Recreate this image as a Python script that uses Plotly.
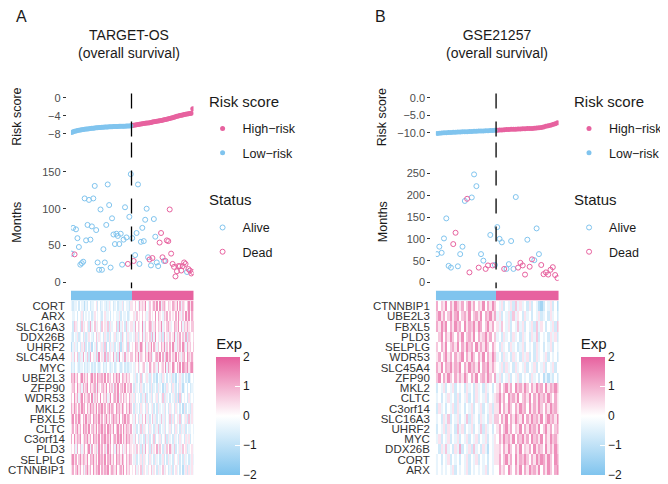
import plotly.graph_objects as go

# the page body keeps its default 8px margin, so the figure is 8px smaller
# and all positions below are given in window pixels
W, H = 660, 476
OFF = 8
PINK = "#E7629F"
BLUE = "#80C4EE"
TXT = "#1a1a1a"
TICK = "#4D4D4D"

# ---------------- data: TARGET-OS (panel A) ----------------
risk_low_a = [-7.65, -7.5, -7.4, -7.32, -7.25, -7.18, -7.12, -7.07, -7.02, -6.97,
              -6.92, -6.88, -6.84, -6.8, -6.76, -6.72, -6.68, -6.64, -6.61, -6.58,
              -6.55, -6.52, -6.5, -6.48, -6.46, -6.44, -6.42, -6.4, -6.38, -6.36,
              -6.34, -6.33, -6.32, -6.31, -6.3, -6.29, -6.28, -6.27, -6.26, -6.24,
              -6.22, -6.18]
risk_high_a = [-6.12, -6.06, -6.0, -5.95, -5.9, -5.85, -5.8, -5.75, -5.7, -5.65,
               -5.6, -5.55, -5.5, -5.44, -5.38, -5.32, -5.26, -5.2, -5.14, -5.08,
               -5.02, -4.95, -4.88, -4.8, -4.72, -4.64, -4.56, -4.48, -4.4, -4.3,
               -4.2, -4.1, -4.0, -3.92, -3.85, -3.78, -3.72, -3.66, -3.6, -3.55,
               -3.5, -3.42, -2.4]
months_a = [39, 74, 38, 72, 60, 48, 24, 26, 28, 114,
            57, 78, 112, 58, 76, 114, 131, 71, 27, 17,
            99, 17, 45, 27, 78, 133, 105, 20, 87, 65,
            52, 66, 63, 52, 66, 24, 58, 102, 61, 25,
            89, 147, 60, 29, 37, 67, 133, 25, 55, 74,
            56, 85, 100, 34, 31, 23, 33, 86, 62, 27,
            22, 54, 67, 34, 29, 29, 57, 56, 99, 39,
            25, 21, 8, 15, 22, 22, 16, 22, 27, 25,
            14, 18, 16, 12, 14]
status_a = "AADAAAAAAA AAAAAAAAAA AAAAAAAAAA AAAAAAAAAD AAADAAAAAA AAAADADAAA ADDDADDDDD DDDDDDDDDD ADDDD"
genes_a = ["CORT", "ARX", "SLC16A3", "DDX26B", "UHRF2", "SLC45A4", "MYC", "UBE2L3", "ZFP90",
           "WDR53", "MKL2", "FBXL5", "CLTC", "C3orf14", "PLD3", "SELPLG", "CTNNBIP1"]
# expression levels 1..9 (5 = 0), low-risk | high-risk samples
expr_a = [
    "4344535442 4353445635 3454346453 4534463544 36|6575486769 5475686959 4786576587 6958476579 698",
    "5445354635 4545346545 4356445354 5446354453 45|5647565756 4675659586 5476857565 8596475969 587",
    "5376453746 5638457465 3756473645 5738465374 56|6485765947 5687468576 9465786458 7695847686 579",
    "4354634536 3465435746 4536436354 6345374536 44|5476365847 6573849564 7385647569 4768574837 658",
    "2464353647 3536254735 4637253646 3547264537 35|6587469758 4769586475 8694758596 4768597486 759",
    "6475736485 4738564739 5648374658 4739564846 57|7586947658 6978457869 5847968576 9586478597 686",
    "3435434453 4345343543 4534354345 3454345343 44|5465745675 4586576485 6759486597 5869598796 897",
    "8796857968 6857968597 7869586758 6979587686 75|5463547354 6436534254 3645354634 2546435342 453",
    "6785967486 7958678496 5786958674 8695786957 68|5364536435 4536345364 5243645364 3536424535 344",
    "7596847958 6785947685 9576846957 8694758675 86|4635453647 3546354635 4736453546 3627354536 453",
    "8697586978 5869786958 7968579687 5978697586 97|5364536453 6354635364 5463536453 6453526354 364",
    "7958697586 9678597869 6857968579 7869587968 75|6475364758 4635746354 7463547363 5647354637 464",
    "6857968597 8695786958 7968597869 5796859687 68|5463547364 5364536473 5463546353 6453646354 453",
    "8596879568 7968597869 5879686957 8697958697 86|6475364537 4635473546 3547364536 4536453646 354",
    "6574857468 5794856749 6857496857 4968574685 76|5647563748 5637465847 5364758647 3546475634 564",
    "7968579687 6958796859 7869587968 5978697586 87|5463546364 5364536453 4635364536 5463536453 463",
    "6857968574 7968596879 5868795687 6957869586 75|6574657365 4657465364 5746534635 6453524636 464",
]

# ---------------- data: GSE21257 (panel B) ----------------
risk_low_b = [-10.12, -10.05, -10.0, -9.95, -9.91, -9.87, -9.83, -9.8, -9.77, -9.74,
              -9.71, -9.68, -9.65, -9.62, -9.59, -9.56, -9.53, -9.5, -9.47, -9.44,
              -9.41, -9.38, -9.35, -9.32, -9.29, -9.25]
risk_high_b = [-9.2, -9.16, -9.12, -9.08, -9.04, -9.0, -8.97, -8.94, -8.91, -8.88,
               -8.85, -8.82, -8.79, -8.76, -8.73, -8.7, -8.65, -8.6, -8.52, -8.42,
               -8.3, -8.1, -7.95, -7.8, -7.6, -7.4, -7.1]
months_b = [65, 82, 68, 101, 147, 38, 34, 88, 114, 37,
            65, 82, 187, 192, 23, 195, 248, 221, 34, 65,
            50, 31, 39, 109, 39, 40, 127, 100, 92, 31,
            31, 42, 95, 31, 196, 34, 45, 39, 18, 98,
            36, 53, 51, 124, 65, 40, 19, 23, 18, 29,
            35, 17, 10]
status_b = "AAAAAAADDA AAADDAAADA ADDADAAAAD AAAAADDDDA DDAAADDDDD DDD"
genes_b = ["CTNNBIP1", "UBE2L3", "FBXL5", "PLD3", "SELPLG", "WDR53", "SLC45A4", "ZFP90", "MKL2",
           "CLTC", "C3orf14", "SLC16A3", "UHRF2", "MYC", "DDX26B", "CORT", "ARX"]
expr_b = [
    "8576958697 6857968576 958697|5463546374 6453635421 3546352",
    "7968579689 5786957869 587968|4635463746 5364535463 4536453",
    "8697958697 8596879698 579685|6475463547 4635463746 5354637",
    "5795869758 6957869586 796857|4536453645 3645364735 4536463",
    "7586957869 5869785968 697586|5364536453 4635453645 3546354",
    "6857968586 7958697586 958697|4536453645 3646353645 4635453",
    "8695879687 9586978695 879686|5463645364 5463546354 6354635",
    "7958697586 8697586957 869758|4635463546 3545364535 2424353",
    "3546354635 4536453645 364535|6857968597 8697586978 5968797",
    "4535464536 3546353645 463546|7968597869 5786958697 8697586",
    "3645354636 4535463546 354636|6958697586 9785968697 5869786",
    "4536473546 3547364536 453647|7586958697 6958697869 5797869",
    "3546364537 4635463547 364535|6857968576 9586978695 7968578",
    "4635463546 3546354635 463546|5869786958 7968597869 5869786",
    "5364745364 8354637453 642546|6758697586 9576859687 5968697",
    "4535463545 3546354635 453546|6857968596 8797586979 8697598",
    "4545454635 4546354545 463545|5867597586 9586978695 8697589",
]


def px_x(p):
    return (p - OFF) / W


def px_y(p):
    return 1 - (p - OFF) / H


def levels(rows):
    return [[(int(c) - 5) / 2.8 for c in r.replace(" ", "").replace("|", "")] for r in rows]


exp_scale = [[0, BLUE], [0.5, "#FFFFFF"], [1, PINK]]
group_scale = [[0, BLUE], [0.5, BLUE], [0.5, PINK], [1, PINK]]

fig = go.Figure()


def add_panel(tag, low, high, months, status, genes, expr, ax, leg, cb_x):
    xr, yr, ym, xh, yb, yhm = ax
    n_low, n = len(low), len(low) + len(high)
    xs_low = list(range(1, n_low + 1))
    xs_high = list(range(n_low + 1, n + 1))
    fig.add_trace(go.Scatter(x=xs_high, y=high, mode="markers", name="High−risk",
                             marker=dict(color=PINK, size=5), xaxis=xr, yaxis=yr,
                             legend=leg[0], legendgroup=tag + "h", legendrank=1))
    fig.add_trace(go.Scatter(x=xs_low, y=low, mode="markers", name="Low−risk",
                             marker=dict(color=BLUE, size=5), xaxis=xr, yaxis=yr,
                             legend=leg[0], legendgroup=tag + "l", legendrank=2))
    st = status.replace(" ", "")
    for code, name, col, rank in [("A", "Alive", BLUE, 1), ("D", "Dead", PINK, 2)]:
        idx = [i for i, s in enumerate(st) if s == code]
        fig.add_trace(go.Scatter(x=[i + 1 for i in idx], y=[months[i] for i in idx],
                                 mode="markers", name=name,
                                 marker=dict(symbol="circle-open", color=col, size=5,
                                             line=dict(width=1, color=col)),
                                 xaxis=xr, yaxis=ym, legend=leg[1],
                                 legendgroup=tag + code, legendrank=rank))
    groups = [[0] * n_low + [1] * len(high)]
    fig.add_trace(go.Heatmap(z=groups, x=list(range(n)), y=["group"], colorscale=group_scale,
                             zmin=0, zmax=1, showscale=False, xaxis=xh, yaxis=yb,
                             hoverinfo="skip"))
    fig.add_trace(go.Heatmap(z=levels(expr), x=list(range(n)), y=genes, colorscale=exp_scale,
                             zmin=-2, zmax=2, xaxis=xh, yaxis=yhm,
                             colorbar=dict(x=px_x(cb_x), xanchor="left", y=px_y(336),
                                           yanchor="top", len=140, lenmode="pixels",
                                           thickness=24, thicknessmode="pixels",
                                           xpad=0, ypad=0, outlinewidth=0,
                                           title=dict(text="Exp", side="top",
                                                      font=dict(size=15, color=TXT)),
                                           tickvals=[-2, -1, 0, 1, 2], ticks="inside",
                                           ticklen=5, tickcolor="white",
                                           tickfont=dict(size=12, color=TXT))))
    for yref in (yr, ym):
        fig.add_shape(type="line", xref=xr, yref=yref + " domain",
                      x0=n_low + 0.5, x1=n_low + 0.5, y0=1, y1=0,
                      line=dict(color="black", width=1.3, dash="15px,13px"))
    return n


n_a = add_panel("a", risk_low_a, risk_high_a, months_a, status_a, genes_a, expr_a,
                ("x", "y", "y2", "x3", "y3", "y4"), ("legend", "legend2"), 216)
n_b = add_panel("b", risk_low_b, risk_high_b, months_b, status_b, genes_b, expr_b,
                ("x4", "y5", "y6", "x5", "y7", "y8"), ("legend3", "legend4"), 589)

tickstyle = dict(ticks="outside", ticklen=3, tickwidth=1, tickcolor="#333333",
                 tickfont=dict(size=11, color=TICK, family="Liberation Sans"),
                 showgrid=False, zeroline=False, showline=False)
hidden = dict(visible=False, showgrid=False, zeroline=False)

dom_a = [px_x(67.3), px_x(192.7)]
dom_b = [px_x(440.7), px_x(566.3)]
dom_risk = [px_y(136), px_y(92.5)]
dom_months = [px_y(289.3), px_y(142)]
dom_bar = [px_y(301.5), px_y(291.5)]
dom_heat = [px_y(478), px_y(302)]


def gene_axis(genes, anchor):
    return dict(domain=dom_heat, anchor=anchor, autorange="reversed", ticks="",
                tickmode="array", tickvals=genes, ticktext=genes,
                showgrid=False, zeroline=False, ticklabelstandoff=5,
                tickfont=dict(size=11.5, color="#333333"))


fig.update_layout(
    width=W, height=H, margin=dict(l=0, r=0, t=0, b=0),
    paper_bgcolor="white", plot_bgcolor="white",
    font=dict(family="Liberation Sans", color=TXT),
    xaxis=dict(domain=dom_a, range=[0.5, n_a + 0.5], anchor="y", **hidden),
    yaxis=dict(domain=dom_risk, range=[-8.59, 0.92], anchor="free", position=px_x(62),
               tickvals=[0, -4, -8], **tickstyle),
    yaxis2=dict(domain=dom_months, range=[-8.2, 189.9], anchor="free", position=px_x(62),
                tickvals=[0, 50, 100, 150], **tickstyle),
    xaxis3=dict(domain=dom_a, range=[-0.5, n_a - 0.5], anchor="y4", **hidden),
    yaxis3=dict(domain=dom_bar, anchor="x3", **hidden),
    yaxis4=gene_axis(genes_a, "x3"),
    xaxis4=dict(domain=dom_b, range=[0.5, n_b + 0.5], anchor="y5", **hidden),
    yaxis5=dict(domain=dom_risk, range=[-11.04, 1.18], anchor="free", position=px_x(435),
                tickvals=[0, -5, -10], tickformat=".1f", **tickstyle),
    yaxis6=dict(domain=dom_months, range=[-13.6, 321], anchor="free", position=px_x(435),
                tickvals=[0, 50, 100, 150, 200, 250], **tickstyle),
    xaxis5=dict(domain=dom_b, range=[-0.5, n_b - 0.5], anchor="y8", **hidden),
    yaxis7=dict(domain=dom_bar, anchor="x5", **hidden),
    yaxis8=gene_axis(genes_b, "x5"),
)


def legend_box(x, y):
    return dict(x=px_x(x), y=px_y(y), xanchor="left", yanchor="top",
                bgcolor="rgba(0,0,0,0)", tracegroupgap=5,
                font=dict(size=12.5, color=TXT))


fig.update_layout(
    legend=legend_box(202, 113),
    legend2=legend_box(202, 213),
    legend3=legend_box(577, 113),
    legend4=legend_box(577, 213),
)

notes = [
    dict(text="A", x=px_x(9), y=px_y(15), font=dict(size=16), xanchor="left"),
    dict(text="B", x=px_x(376), y=px_y(15), font=dict(size=16), xanchor="left"),
    dict(text="TARGET-OS<br>(overall survival)", x=px_x(127), y=px_y(23), font=dict(size=14),
         yanchor="top"),
    dict(text="GSE21257<br>(overall survival)", x=px_x(503), y=px_y(23), font=dict(size=14),
         yanchor="top"),
    dict(text="Risk score", x=px_x(12), y=px_y(116), textangle=-90, font=dict(size=12.5)),
    dict(text="Months", x=px_x(12), y=px_y(222), textangle=-90, font=dict(size=12.5)),
    dict(text="Risk score", x=px_x(385), y=px_y(116), textangle=-90, font=dict(size=12.5)),
    dict(text="Months", x=px_x(386), y=px_y(222), textangle=-90, font=dict(size=12.5)),
    dict(text="Risk score", x=px_x(206), y=px_y(100), font=dict(size=15), xanchor="left"),
    dict(text="Status", x=px_x(206), y=px_y(200), font=dict(size=15), xanchor="left"),
    dict(text="Risk score", x=px_x(580), y=px_y(100), font=dict(size=15), xanchor="left"),
    dict(text="Status", x=px_x(580), y=px_y(200), font=dict(size=15), xanchor="left"),
]
for a in notes:
    a.setdefault("xanchor", "center")
    a.setdefault("yanchor", "middle")
    fig.add_annotation(xref="paper", yref="paper", showarrow=False, **a)

fig.write_html("out.html")
